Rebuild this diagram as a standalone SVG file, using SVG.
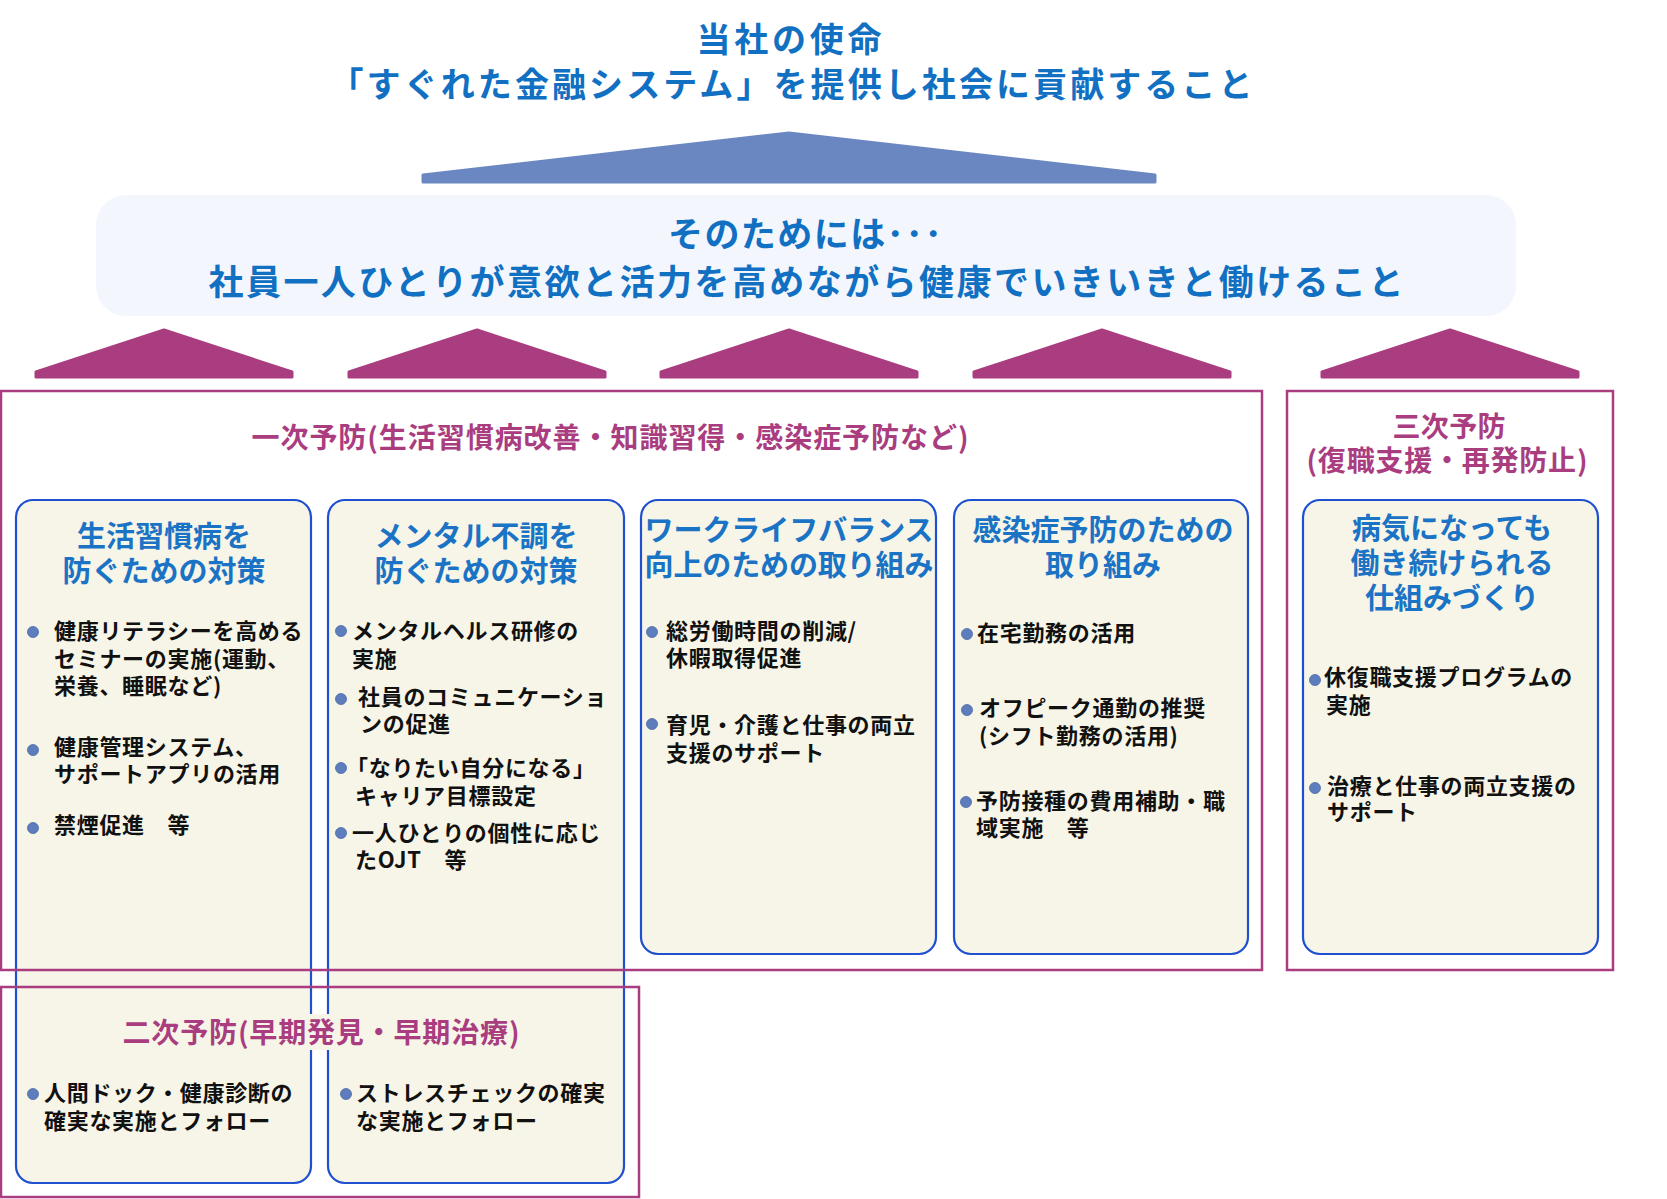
<svg xmlns="http://www.w3.org/2000/svg" width="1667" height="1199" viewBox="0 0 1667 1199">
<style>
text{font-family:"Noto Sans CJK JP","Noto Sans CJK SC",sans-serif;font-weight:bold}
.t1{font-size:34px;fill:#1170c2;text-anchor:middle}
.t2{font-size:35px;fill:#1170c2;text-anchor:middle}
.mt{font-size:28px;fill:#a93d7f;text-anchor:middle}
.hd{font-size:29px;fill:#1a73c4;text-anchor:middle}
.bd{font-size:22px;fill:#111;letter-spacing:0.7px}
.box{fill:#f7f5e7;stroke:#1f50d0;stroke-width:2.2}
.frame{fill:none;stroke:#a93d7f;stroke-width:2.5}
.tri{fill:#a93d7f;stroke:#a93d7f;stroke-width:3;stroke-linejoin:round}
.dot{fill:#5d7dbd;stroke:#4a68a8;stroke-width:0.8}
</style>

<g id="mission">
<text class="t1" x="789" y="52" textLength="185" lengthAdjust="spacing">当社の使命</text>
<text class="t1" x="791" y="97" textLength="923" lengthAdjust="spacing">「すぐれた金融システム」を提供し社会に貢献すること</text>
</g>

<g id="roof">
<polygon points="789,133 1155,175 1155,182 423,182 423,175" fill="#6a87c2" stroke="#6a87c2" stroke-width="3" stroke-linejoin="round"/>
</g>

<g id="goal">
<rect x="96" y="195" width="1420" height="121" rx="30" fill="#f3f7fd"/>
<text class="t2" x="805" y="247" textLength="274" lengthAdjust="spacing">そのためには･･･</text>
<text class="t2" x="806" y="295" textLength="1195" lengthAdjust="spacing">社員一人ひとりが意欲と活力を高めながら健康でいきいきと働けること</text>
</g>

<g id="pillars">
<polygon class="tri" points="164,330 292,372 292,377 36,377 36,372"/>
<polygon class="tri" points="477,330 605,372 605,377 349,377 349,372"/>
<polygon class="tri" points="789,330 917,372 917,377 661,377 661,372"/>
<polygon class="tri" points="1102,330 1230,372 1230,377 974,377 974,372"/>
<polygon class="tri" points="1450,330 1578,372 1578,377 1322,377 1322,372"/>
</g>

<g id="box1">
<rect class="box" x="16" y="500" width="295" height="683" rx="17"/>
<text class="hd" x="164" y="547">生活習慣病を</text>
<text class="hd" x="164" y="582">防ぐための対策</text>
<circle class="dot" cx="33" cy="632" r="5.5"/>
<text class="bd" x="54" y="639">健康リテラシーを高める</text>
<text class="bd" x="54" y="667">セミナーの実施(運動、</text>
<text class="bd" x="54" y="694">栄養、睡眠など)</text>
<circle class="dot" cx="33" cy="750" r="5.5"/>
<text class="bd" x="54" y="755">健康管理システム、</text>
<text class="bd" x="54" y="782">サポートアプリの活用</text>
<circle class="dot" cx="33" cy="828" r="5.5"/>
<text class="bd" x="54" y="833">禁煙促進　等</text>
<circle class="dot" cx="33" cy="1094" r="5.5"/>
<text class="bd" x="44" y="1101">人間ドック・健康診断の</text>
<text class="bd" x="44" y="1129">確実な実施とフォロー</text>
</g>

<g id="box2">
<rect class="box" x="328" y="500" width="296" height="683" rx="17"/>
<text class="hd" x="476" y="547">メンタル不調を</text>
<text class="hd" x="476" y="582">防ぐための対策</text>
<circle class="dot" cx="341" cy="631" r="5.5"/>
<text class="bd" x="352" y="639">メンタルヘルス研修の</text>
<text class="bd" x="352" y="667">実施</text>
<circle class="dot" cx="341" cy="699" r="5.5"/>
<text class="bd" x="358" y="705">社員のコミュニケーショ</text>
<text class="bd" x="360" y="732">ンの促進</text>
<circle class="dot" cx="341" cy="768" r="5.5"/>
<text class="bd" x="346" y="776">「なりたい自分になる」</text>
<text class="bd" x="355" y="804">キャリア目標設定</text>
<circle class="dot" cx="341" cy="833" r="5.5"/>
<text class="bd" x="352" y="841">一人ひとりの個性に応じ</text>
<text class="bd" x="355" y="868">たOJT　等</text>
<circle class="dot" cx="346" cy="1094" r="5.5"/>
<text class="bd" x="356" y="1101">ストレスチェックの確実</text>
<text class="bd" x="356" y="1129">な実施とフォロー</text>
</g>

<g id="box3">
<rect class="box" x="641" y="500" width="295" height="454" rx="17"/>
<text class="hd" x="789" y="541" textLength="289" lengthAdjust="spacing">ワークライフバランス</text>
<text class="hd" x="789" y="576" textLength="289" lengthAdjust="spacing">向上のための取り組み</text>
<circle class="dot" cx="652" cy="632" r="5.5"/>
<text class="bd" x="666" y="639">総労働時間の削減/</text>
<text class="bd" x="666" y="666">休暇取得促進</text>
<circle class="dot" cx="652" cy="724" r="5.5"/>
<text class="bd" x="666" y="733">育児・介護と仕事の両立</text>
<text class="bd" x="666" y="761">支援のサポート</text>
</g>

<g id="box4">
<rect class="box" x="954" y="500" width="294" height="454" rx="17"/>
<text class="hd" x="1103" y="541">感染症予防のための</text>
<text class="hd" x="1103" y="576">取り組み</text>
<circle class="dot" cx="967" cy="634" r="5.5"/>
<text class="bd" x="977" y="641">在宅勤務の活用</text>
<circle class="dot" cx="967" cy="710" r="5.5"/>
<text class="bd" x="979" y="716">オフピーク通勤の推奨</text>
<text class="bd" x="979" y="744">(シフト勤務の活用)</text>
<circle class="dot" cx="966" cy="802" r="5.5"/>
<text class="bd" x="976" y="809">予防接種の費用補助・職</text>
<text class="bd" x="976" y="836">域実施　等</text>
</g>

<g id="box5">
<rect class="box" x="1303" y="500" width="295" height="454" rx="17"/>
<text class="hd" x="1452" y="539">病気になっても</text>
<text class="hd" x="1452" y="574">働き続けられる</text>
<text class="hd" x="1452" y="609">仕組みづくり</text>
<circle class="dot" cx="1315" cy="680" r="5.5"/>
<text class="bd" x="1324" y="685">休復職支援プログラムの</text>
<text class="bd" x="1326" y="713">実施</text>
<circle class="dot" cx="1315" cy="788" r="5.5"/>
<text class="bd" x="1327" y="794">治療と仕事の両立支援の</text>
<text class="bd" x="1327" y="820">サポート</text>
</g>

<g id="primary">
<rect class="frame" x="1" y="391" width="1261" height="579"/>
<text class="mt" x="610" y="448" textLength="717" lengthAdjust="spacing">一次予防(生活習慣病改善・知識習得・感染症予防など)</text>
</g>

<g id="tertiary">
<rect class="frame" x="1287" y="391" width="326" height="579"/>
<text class="mt" x="1449" y="437" textLength="113" lengthAdjust="spacing">三次予防</text>
<text class="mt" x="1447" y="471" textLength="281" lengthAdjust="spacing">(復職支援・再発防止)</text>
</g>

<g id="secondary">
<rect class="frame" x="1" y="987" width="638" height="210" stroke="#b54a8b"/>
<rect x="118" y="1014" width="406" height="36" fill="#f7f5e7"/>
<text class="mt" x="321" y="1043" textLength="397" lengthAdjust="spacing">二次予防(早期発見・早期治療)</text>
</g>

<g id="connectors"></g>
</svg>
